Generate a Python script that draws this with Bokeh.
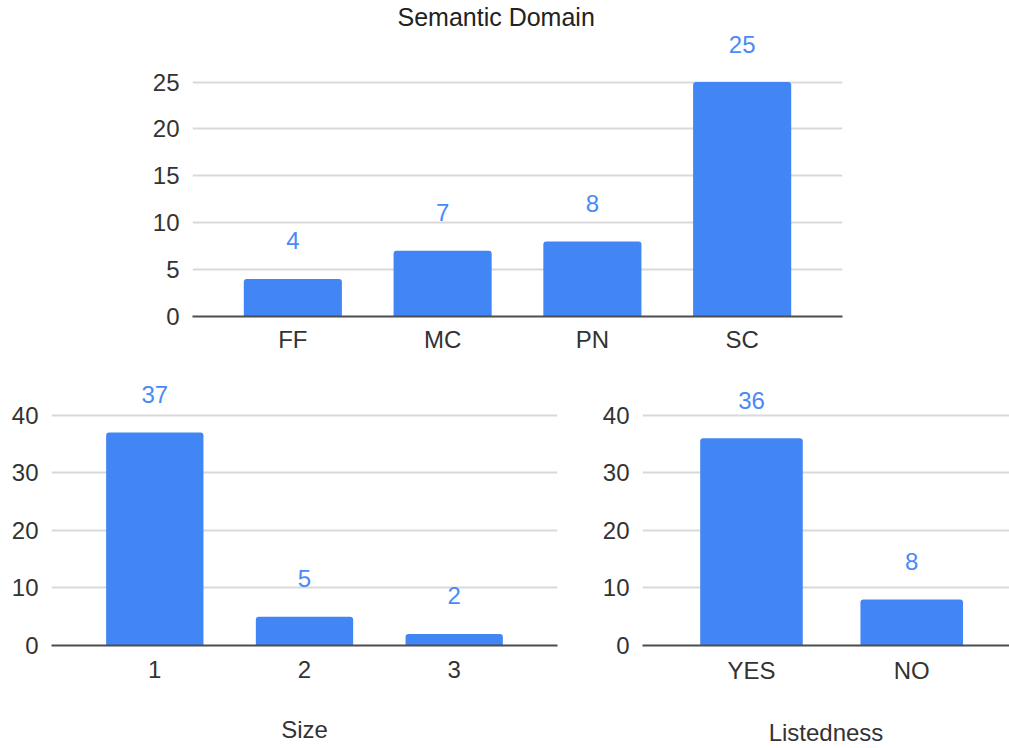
from bokeh.plotting import figure
from bokeh.models import ColumnDataSource, FixedTicker, Range1d, VBar, LabelSet
from bokeh.layouts import column, row
from bokeh.embed import file_html
from bokeh.resources import INLINE
from bokeh.core.properties import value

# --- data -------------------------------------------------------------
domain_cats = ["FF", "MC", "PN", "SC"]
domain_counts = [4, 7, 8, 25]

size_cats = ["1", "2", "3"]
size_counts = [37, 5, 2]

listed_cats = ["YES", "NO"]
listed_counts = [36, 8]

# --- styling ----------------------------------------------------------
FONT = "Liberation Sans"
BAR = "#4285f4"
LABEL_BLUE = "#4a8af4"
TEXT = "#333333"
GRID = "#d9d9d9"
BASE = "#4d4d4d"
FS = "24px"

HAS_RADIUS = "border_radius" in VBar.properties()


def bar_panel(cats, counts, width, height, x_pad, y_end, y_ticks,
              border, bar_w, title=None, xlabel=None, tick_standoff=9,
              label_standoff=36, label_baseline=None):
    xs = list(range(len(cats)))
    src = ColumnDataSource(dict(x=xs, y=counts, lab=[str(c) for c in counts]))
    p = figure(width=width, height=height, output_backend="svg",
               toolbar_location=None,
               x_range=Range1d(-x_pad[0], len(cats) - 1 + x_pad[1]),
               y_range=Range1d(0, y_end),
               min_border_left=border[0], min_border_right=border[1],
               min_border_top=border[2], min_border_bottom=border[3])
    p.outline_line_color = None
    p.background_fill_color = "white"
    p.border_fill_color = "white"

    kw = dict(border_radius=(3, 3, 0, 0)) if HAS_RADIUS else {}
    p.vbar(x="x", top="y", width=bar_w, source=src, fill_color=BAR,
           line_color=None, **kw)
    # value annotations floating above each bar
    p.add_layout(LabelSet(x="x", y="y", text="lab", source=src,
                          text_align="center", text_baseline="middle",
                          y_offset=38, text_color=LABEL_BLUE,
                          text_font=value(FONT), text_font_size=value(FS)))

    p.xgrid.grid_line_color = None
    p.ygrid.grid_line_color = GRID
    p.ygrid.grid_line_width = 2
    p.ygrid.ticker = FixedTicker(ticks=y_ticks)

    ya = p.yaxis[0]
    ya.ticker = FixedTicker(ticks=y_ticks)
    ya.axis_line_color = None
    ya.major_tick_line_color = None
    ya.minor_tick_line_color = None
    ya.major_tick_out = 0
    ya.major_label_standoff = 13
    ya.major_label_text_font = FONT
    ya.major_label_text_font_size = FS
    ya.major_label_text_color = TEXT

    xa = p.xaxis[0]
    xa.ticker = FixedTicker(ticks=xs)
    xa.major_label_overrides = {i: c for i, c in zip(xs, cats)}
    xa.axis_line_color = BASE
    xa.axis_line_width = 2
    xa.major_tick_line_color = None
    xa.minor_tick_line_color = None
    xa.major_tick_out = 0
    xa.major_label_standoff = tick_standoff
    xa.major_label_text_font = FONT
    xa.major_label_text_font_size = FS
    xa.major_label_text_color = TEXT
    xa.major_label_text_line_height = 1.0
    if xlabel:
        xa.axis_label = xlabel
        xa.axis_label_standoff = label_standoff
        xa.axis_label_text_font = FONT
        xa.axis_label_text_font_size = FS
        xa.axis_label_text_font_style = "normal"
        xa.axis_label_text_color = TEXT
        xa.axis_label_text_line_height = 1.0
        if label_baseline:
            xa.axis_label_text_baseline = label_baseline

    if title:
        p.title.text = title
        p.title.align = "left"
        p.title.offset = 205
        p.title.standoff = 0
        p.title.text_font = FONT
        p.title.text_font_size = "25px"
        p.title.text_font_style = "normal"
        p.title.text_color = "#222222"
    return p


top = bar_panel(domain_cats, domain_counts, 1009, 360, (0.67, 0.67),
                30.5, [0, 5, 10, 15, 20, 25], (192, 167, 0, 44), 0.655,
                title="Semantic Domain", tick_standoff=9)
left = bar_panel(size_cats, size_counts, 560, 388, (0.69, 0.69),
                 47.4, [0, 10, 20, 30, 40], (51, 3, 12, 100), 0.65,
                 xlabel="Size", tick_standoff=15, label_standoff=35,
                 label_baseline="middle")
right = bar_panel(listed_cats, listed_counts, 449, 388, (0.68, 0.61),
                  47.4, [0, 10, 20, 30, 40], (82, 0, 12, 100), 0.64,
                  xlabel="Listedness", tick_standoff=11, label_standoff=32)

layout = column(top, row(left, right))
open("out.html", "w").write(file_html(layout, INLINE))
